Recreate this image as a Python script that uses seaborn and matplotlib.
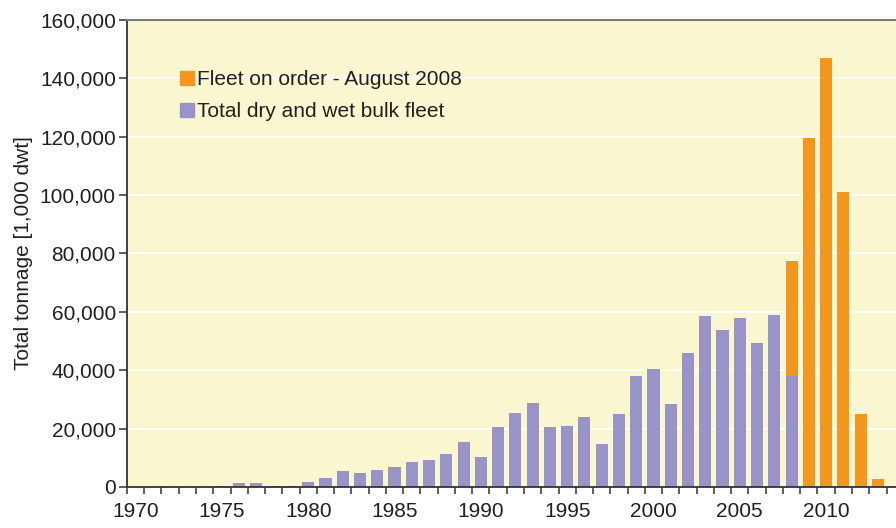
import numpy as np
import matplotlib.pyplot as plt
import matplotlib.ticker as mticker
from matplotlib.lines import Line2D
import seaborn as sns

# ── Datos (1,000 dwt) ─────────────────────────────────────────
anios = list(range(1970, 2015))
flota_total = [
    0, 0, 0, 0, 0, 300, 1200, 1200, 500, 500,                     # 1970-1979
    1800, 3200, 5600, 4700, 5800, 6800, 8500, 9200, 11300, 15400,  # 1980-1989
    10300, 20600, 25400, 28800, 20600, 20900, 24000, 14600, 24900, 38100,  # 1990-1999
    40400, 28500, 46000, 58500, 53800, 58000, 49300, 59000, 38100,  # 2000-2008
    0, 0, 0, 0, 0, 0,                                              # 2009-2014
]
flota_pedido = [0] * 38 + [39400, 119700, 146800, 100900, 25100, 2700, 400]

etiquetas_x = [1970, 1975, 1980, 1985, 1990, 1995, 2000, 2005, 2010]
ticks_y = [0, 20000, 40000, 60000, 80000, 100000, 120000, 140000, 160000]

etiqueta_pedido = 'Fleet on order - August 2008'
etiqueta_flota = 'Total dry and wet bulk fleet'

# ── Configuración visual ──────────────────────────────────────
naranja = '#F4971F'
morado = '#9894C7'
fondo = '#FAF6CF'
texto = '#231F20'

sns.set_style('white')
plt.rcParams.update({
    'font.family': ['Liberation Sans', 'DejaVu Sans'],
    'font.size': 15,
    'text.color': texto,
    'axes.labelcolor': texto,
    'xtick.color': texto,
    'ytick.color': texto,
})

fig = plt.figure(figsize=(8.96, 5.28), dpi=100)
ax = fig.add_axes([0.1417, 0.0777, 0.8583, 0.8845])
ax.set_facecolor(fondo)

total = np.array(flota_total) + np.array(flota_pedido)

# barras apiladas: primero el total (naranja), luego la flota existente encima
sns.barplot(x=anios, y=total, native_scale=True, color=naranja, saturation=1,
            width=0.7, linewidth=0, errorbar=None, ax=ax)
sns.barplot(x=anios, y=flota_total, native_scale=True, color=morado, saturation=1,
            width=0.7, linewidth=0, errorbar=None, ax=ax)

ax.set_xlim(1969.5, 2014.05)
ax.set_ylim(0, 160000)

# ticks
ax.set_xticks(etiquetas_x)
ax.set_xticklabels([str(a) for a in etiquetas_x], fontsize=15)
ax.set_xticks(np.arange(1969.5, 2014, 1.0), minor=True)
ax.tick_params(axis='x', which='major', length=0, pad=11)
ax.tick_params(axis='x', which='minor', length=5, width=1.1, direction='out',
               color='#333333', bottom=True)
ax.set_yticks(ticks_y)
ax.yaxis.set_major_formatter(mticker.FuncFormatter(lambda v, _: f'{v:,.0f}'))
ax.tick_params(axis='y', length=6, width=1.1, direction='out', color='#333333',
               pad=2, labelsize=15, left=True)
ax.set_xlabel('')
ax.set_ylabel('Total tonnage [1,000 dwt]', fontsize=15, labelpad=5)

# rejilla
ax.set_axisbelow(True)
ax.yaxis.grid(True, color='white', lw=1.3)
ax.xaxis.grid(False)

# bordes
for lado in ['left', 'bottom']:
    ax.spines[lado].set_color('#333333')
    ax.spines[lado].set_linewidth(1.3)
ax.spines['top'].set_color('#7a7a7a')
ax.spines['top'].set_linewidth(1.5)
ax.spines['right'].set_visible(False)

# leyenda
manijas = [
    Line2D([], [], ls='', marker='s', markersize=10, color=naranja),
    Line2D([], [], ls='', marker='s', markersize=10, color=morado),
]
ax.legend(manijas, [etiqueta_pedido, etiqueta_flota], loc='upper left',
          bbox_to_anchor=(0.052, 0.915), frameon=False, fontsize=15,
          handlelength=0.9, handletextpad=0.05, labelspacing=0.62, borderpad=0)

fig.savefig('out.png', dpi=100, facecolor='white')
